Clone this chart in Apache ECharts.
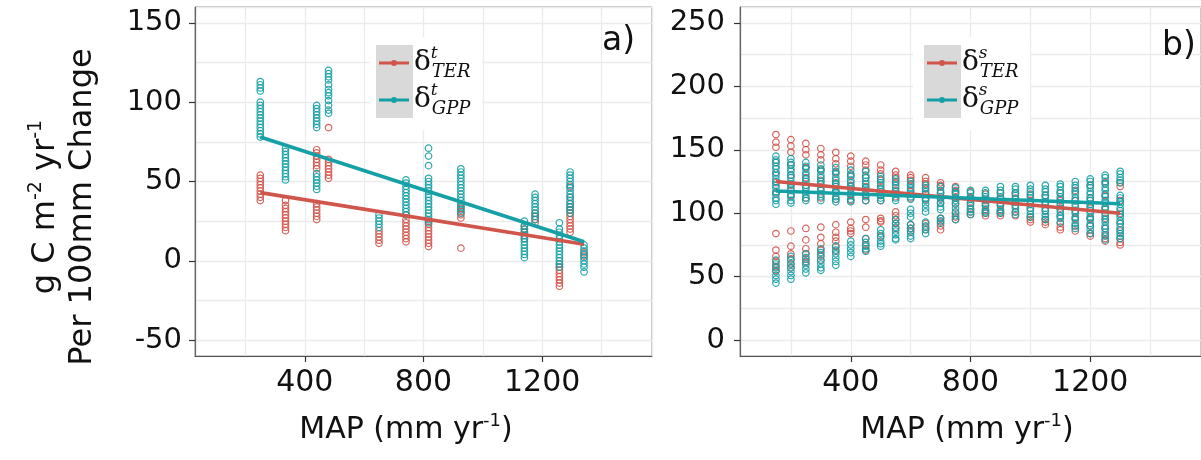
<!DOCTYPE html>
<html><head><meta charset="utf-8">
<script src="https://cdn.jsdelivr.net/npm/echarts@6/dist/echarts.min.js"></script>
<style>html,body{margin:0;padding:0;background:#fff}#c{width:1201px;height:460px}</style>
</head><body><div id="c"></div>
<script>
const RED = '#D0554B', TEAL = '#14A0A5';

// ---------- panel a) : sensitivity to temporal MAP change ----------
const aMAP = [250, 335, 440, 480, 650, 741, 817, 926, 1140, 1176, 1258, 1294, 1341];
const aTER = [
  [54, 52, 50, 48, 46, 44, 42, 40, 38],
  [38, 35, 33, 31, 29, 27, 25, 23, 21, 19],
  [70, 68, 66, 64, 62, 60, 58, 36, 34, 32, 30, 28, 26],
  [84, 64, 62, 60, 58, 56, 54, 52],
  [19, 17, 15, 13, 11],
  [29, 26, 24, 22, 20, 18, 16, 14, 12],
  [25, 23, 21, 19, 17, 15, 13, 11, 9],
  [35, 33, 31, 29, 27, 8],
  [22, 20, 18, 16, 14],
  [30, 28, 26, 24],
  [-2, -4, -6, -8, -10, -12, -14, -16],
  [47, 40, 36, 34, 32, 30, 28, 26, 24, 22, 20, 18],
  [5, 3]
];
const aGPP = [
  [113, 111, 109, 107, 100, 98, 96, 94, 92, 90, 88, 86, 84, 82, 80, 78],
  [71, 69, 67, 65, 63, 61, 59, 57, 55, 53, 51],
  [98, 96, 94, 92, 90, 88, 86, 84, 55, 53, 51, 49, 47, 45],
  [120, 118, 116, 114, 111, 108, 106, 104, 101, 98, 95, 93],
  [29, 27, 25, 23, 21],
  [51, 49, 47, 45, 43, 41, 39, 37, 35, 33, 31, 29],
  [71, 66, 60, 52, 50, 48, 46, 44, 42, 40, 38, 36, 34, 32, 30, 28, 26, 24],
  [58, 56, 54, 52, 50, 48, 46, 44, 42, 40, 38, 36, 34, 32, 30],
  [25, 22, 20, 18, 16, 14, 12, 10, 8, 6, 4, 2],
  [42, 40, 38, 36, 34, 32, 30, 28, 26],
  [24, 20, 18, 16, 14, 12, 10, 8, 6, 4, 2, 0, -2, -4],
  [56, 54, 52, 50, 48, 46, 44, 42, 40, 38, 36, 34, 32, 30],
  [10, 8, 6, 4, 2, 0, -2, -4, -7]
];
const aTERfit = [[250, 43], [1341, 10.5]];
const aGPPfit = [[250, 78], [1341, 12]];

// ---------- panel b) : sensitivity to spatial MAP change ----------
const bMAP = [150, 200, 250, 300, 350, 400, 450, 500, 550, 600, 650, 700,
              750, 800, 850, 900, 950, 1000, 1050, 1100, 1150, 1200, 1250, 1300];
const bTER = [
  [162, 156, 152, 140, 132, 124, 116, 84, 71, 66, 62, 58, 55],
  [158, 153, 148, 138, 130, 122, 114, 86, 74, 68, 64, 60, 57],
  [155, 150, 146, 136, 128, 120, 112, 88, 79, 72, 68, 64, 61],
  [151, 146, 142, 134, 126, 118, 112, 89, 81, 76, 71, 67, 63],
  [148, 143, 139, 132, 124, 117, 111, 91, 85, 81, 78, 74, 70],
  [145, 141, 137, 130, 122, 115, 110, 93, 88, 86, 84],
  [141, 138, 134, 128, 121, 114, 110, 95, 89, 80, 75, 71],
  [138, 134, 131, 126, 120, 114, 110, 96, 94, 93, 82],
  [133, 130, 128, 124, 118, 113, 101, 98, 95, 92, 88],
  [130, 128, 126, 122, 117, 112, 91, 88, 86],
  [128, 125, 123, 119, 115, 111, 92, 89, 87],
  [124, 122, 121, 116, 112, 108, 96, 93, 90, 87],
  [121, 118, 116, 112, 108, 100, 97, 95],
  [117, 112, 108, 104, 101, 99],
  [115, 110, 106, 102, 100, 98],
  [116, 112, 106, 102, 100, 98],
  [116, 112, 106, 101, 98],
  [115, 110, 104, 97, 95, 93],
  [114, 108, 102, 95, 93, 91],
  [116, 110, 104, 98, 92, 89, 87],
  [118, 110, 102, 96, 90, 86],
  [122, 112, 104, 96, 90, 84, 82],
  [124, 114, 104, 96, 88, 83, 80, 78],
  [124, 121, 110, 100, 92, 86, 80, 77, 75]
];
const bGPP = [
  [145, 142, 140, 137, 135, 132, 130, 127, 125, 122, 120, 117, 115, 112, 110, 107, 63, 60, 57, 54, 51, 48, 45],
  [143, 140, 138, 135, 133, 130, 128, 125, 123, 120, 118, 115, 113, 110, 108, 66, 63, 60, 57, 54, 51, 48],
  [140, 137, 135, 132, 130, 127, 125, 122, 120, 117, 115, 112, 110, 68, 65, 62, 59, 56, 53],
  [138, 135, 133, 130, 128, 125, 123, 120, 118, 115, 113, 110, 72, 69, 66, 63, 60, 57, 55],
  [136, 133, 131, 128, 126, 123, 121, 118, 116, 113, 111, 109, 74, 71, 68, 65, 62, 59],
  [134, 131, 129, 126, 124, 121, 119, 116, 114, 111, 109, 78, 75, 72, 69, 66],
  [133, 130, 128, 125, 123, 120, 118, 115, 113, 110, 80, 77, 74, 72, 70],
  [129, 127, 124, 122, 119, 117, 114, 112, 110, 87, 84, 81, 78, 76, 74],
  [127, 125, 122, 120, 117, 115, 112, 110, 95, 92, 89, 86, 83, 80, 79],
  [125, 123, 120, 118, 115, 113, 111, 103, 100, 97, 91, 88, 85, 82, 80],
  [122, 120, 117, 115, 112, 110, 107, 104, 101, 93, 90, 87, 84],
  [121, 118, 116, 113, 111, 108, 105, 103, 96, 94, 92],
  [120, 117, 115, 112, 110, 107, 104, 101, 98, 95],
  [118, 116, 113, 111, 108, 106, 103, 101, 99],
  [118, 116, 113, 111, 108, 106, 103, 101, 100],
  [121, 118, 116, 113, 111, 108, 106, 103, 101, 100],
  [121, 119, 116, 114, 111, 109, 106, 104, 101, 99],
  [122, 119, 117, 114, 112, 109, 107, 104, 102, 99, 97],
  [122, 119, 117, 114, 112, 109, 107, 104, 102, 99, 97, 95],
  [123, 121, 118, 116, 113, 111, 108, 106, 103, 101, 98, 96, 93],
  [125, 122, 120, 117, 115, 112, 110, 107, 105, 102, 100, 97, 95, 92, 90, 88],
  [127, 125, 122, 120, 117, 115, 112, 110, 107, 105, 102, 100, 97, 95, 92, 90, 87, 84],
  [130, 128, 125, 123, 120, 118, 115, 113, 110, 108, 105, 103, 100, 98, 95, 93, 90, 88, 85, 82, 79],
  [133, 131, 128, 126, 124, 114, 112, 109, 107, 104, 102, 99, 97, 94, 92, 89, 87, 84, 82, 80]
];
const bTERfit = [[150, 125], [1300, 100]];
const bGPPfit = [[150, 117.5], [1300, 107.5]];

// axis tick labels
const xTicks = [400, 800, 1200];
const aYTicks = [-50, 0, 50, 100, 150];
const bYTicks = [0, 50, 100, 150, 200, 250];

function pairs(xs, cols) {
  const out = [];
  xs.forEach((x, i) => cols[i].forEach(v => out.push([x, v])));
  return out;
}

const FONT = 'DejaVu Sans';
const GRIDLINE = { show: true, lineStyle: { color: '#EBEBEB', width: 1.3 } };
function xAx(gi) {
  return {
    type: 'value', gridIndex: gi, min: 30, max: 1570, position: 'bottom',
    axisLine: { show: true, onZero: false, lineStyle: { color: '#555', width: 1.2 } },
    axisTick: { show: true, customValues: xTicks, length: 6, lineStyle: { color: '#333', width: 1.2 } },
    axisLabel: { customValues: xTicks, formatter: v => String(v), color: '#111', fontFamily: FONT, fontSize: 30, margin: 12 },
    splitLine: { show: false }
  };
}
function xGrid(gi) { // background grid lines every 200 mm
  return {
    type: 'value', gridIndex: gi, min: 30, max: 1570, minInterval: 200, maxInterval: 200, position: 'top',
    axisLine: { show: false }, axisTick: { show: false }, axisLabel: { show: false }, splitLine: GRIDLINE
  };
}
function yAx(gi, mn, mx, ticks, margin) {
  return {
    type: 'value', gridIndex: gi, min: mn, max: mx, position: 'left',
    axisLine: { show: true, onZero: false, lineStyle: { color: '#666', width: 1.2 } },
    axisTick: { show: true, customValues: ticks, length: 6, lineStyle: { color: '#333', width: 1.2 } },
    axisLabel: { customValues: ticks, formatter: v => String(v), color: '#111', fontFamily: FONT, fontSize: 29, margin: margin },
    splitLine: { show: false }
  };
}
function yGrid(gi, mn, mx) { // background grid lines every 25 units
  return {
    type: 'value', gridIndex: gi, min: mn, max: mx, minInterval: 25, maxInterval: 25, position: 'right',
    axisLine: { show: false }, axisTick: { show: false }, axisLabel: { show: false }, splitLine: GRIDLINE
  };
}
function pts(name, gi, data, color) {
  return {
    type: 'scatter', name: name, xAxisIndex: gi, yAxisIndex: gi, data: data,
    symbol: 'circle', symbolSize: 6.5, z: 2,
    itemStyle: { color: 'rgba(255,255,255,0)', borderColor: color, borderWidth: 1.2, opacity: 0.9 },
    emphasis: { disabled: true }
  };
}
function fit(name, gi, data, color, z) {
  return {
    type: 'line', name: name, xAxisIndex: gi, yAxisIndex: gi, data: data,
    showSymbol: false, symbol: 'none', z: z,
    lineStyle: { color: color, width: 3.6 }, itemStyle: { color: color },
    emphasis: { disabled: true }
  };
}

const ICON = 'path://M0,1.5L30,1.5L30,4.5L0,4.5Z M12,3A3,3,0,1,1,18,3A3,3,0,1,1,12,3Z';
const legRich = {
  d: { fontFamily: 'DejaVu Serif', fontSize: 28, lineHeight: 36, color: '#111', verticalAlign: 'middle' },
  sup: { fontFamily: 'DejaVu Serif', fontStyle: 'italic', fontSize: 17, lineHeight: 36, color: '#111', verticalAlign: 'top', width: 1 },
  sub: { fontFamily: 'DejaVu Serif', fontStyle: 'italic', fontSize: 18, lineHeight: 36, color: '#111', verticalAlign: 'bottom' }
};
function legend(left, names, supChar) {
  return {
    orient: 'vertical', left: left, top: 45, padding: 0, itemGap: 1,
    itemWidth: 30, itemHeight: 6, selectedMode: false, z: 10,
    data: [
      { name: names[0], icon: ICON, itemStyle: { color: RED, borderWidth: 0, opacity: 1 } },
      { name: names[1], icon: ICON, itemStyle: { color: TEAL, borderWidth: 0, opacity: 1 } }
    ],
    formatter: n => '{d|δ}{sup|' + supChar + '}{sub|' + (n.endsWith('TER') ? 'TER' : 'GPP') + '}',
    textStyle: { rich: legRich }
  };
}

const chart = echarts.init(document.getElementById('c'), null, { renderer: 'canvas' });
chart.setOption({
  animation: false,
  backgroundColor: '#fff',
  grid: [
    { left: 195, top: 7, width: 457, height: 349, show: true, borderColor: '#8a8a8a', borderWidth: 1, backgroundColor: '#fff' },
    { left: 740, top: 7, width: 464, height: 349, show: true, borderColor: '#8a8a8a', borderWidth: 1, backgroundColor: '#fff' }
  ],
  xAxis: [xAx(0), xAx(1), xGrid(0), xGrid(1)],
  yAxis: [yAx(0, -60, 160, aYTicks, 13), yAx(1, -12.5, 262.5, bYTicks, 15), yGrid(0, -60, 160), yGrid(1, -12.5, 262.5)],
  legend: [legend(379, ['aTER', 'aGPP'], 't'), legend(927, ['bTER', 'bGPP'], 's')],
  series: [
    pts('aTER', 0, pairs(aMAP, aTER), RED),
    pts('aGPP', 0, pairs(aMAP, aGPP), TEAL),
    fit('aTER', 0, aTERfit, RED, 3),
    fit('aGPP', 0, aGPPfit, TEAL, 4),
    pts('bTER', 1, pairs(bMAP, bTER), RED),
    pts('bGPP', 1, pairs(bMAP, bGPP), TEAL),
    fit('bTER', 1, bTERfit, RED, 3),
    fit('bGPP', 1, bGPPfit, TEAL, 4)
  ],
  graphic: { elements: [
    { type: 'rect', shape: { x: 370, y: 37, width: 112, height: 93 }, style: { fill: '#fff' }, z: 5 },
    { type: 'rect', shape: { x: 376, y: 45, width: 37, height: 73 }, style: { fill: '#D9D9D9' }, z: 6 },
    { type: 'rect', shape: { x: 913, y: 37, width: 117, height: 93 }, style: { fill: '#fff' }, z: 5 },
    { type: 'rect', shape: { x: 924, y: 45, width: 37, height: 73 }, style: { fill: '#D9D9D9' }, z: 6 },
    { type: 'text', x: 602, y: 41, z: 10, style: { text: 'a)', font: '33px "DejaVu Sans"', fill: '#111', align: 'left', verticalAlign: 'middle' } },
    { type: 'text', x: 1162, y: 46, z: 10, style: { text: 'b)', font: '33px "DejaVu Sans"', fill: '#111', align: 'left', verticalAlign: 'middle' } },
    { type: 'text', x: 406, y: 430, z: 10, style: {
        text: '{n|MAP (mm yr}{s|-1}{n|)}', align: 'center', verticalAlign: 'middle',
        rich: { n: { fontFamily: FONT, fontSize: 30, lineHeight: 36, fill: '#111' },
                s: { fontFamily: FONT, fontSize: 18, lineHeight: 36, fill: '#111', verticalAlign: 'top' } } } },
    { type: 'text', x: 967, y: 430, z: 10, style: {
        text: '{n|MAP (mm yr}{s|-1}{n|)}', align: 'center', verticalAlign: 'middle',
        rich: { n: { fontFamily: FONT, fontSize: 30, lineHeight: 36, fill: '#111' },
                s: { fontFamily: FONT, fontSize: 18, lineHeight: 36, fill: '#111', verticalAlign: 'top' } } } },
    { type: 'text', x: 64, y: 207, rotation: Math.PI / 2, z: 10, style: {
        text: '{n|g C m}{s|-2}{n| yr}{s|-1}\n{n|Per 100mm Change}', align: 'center', verticalAlign: 'middle',
        rich: { n: { fontFamily: FONT, fontSize: 32, lineHeight: 37, fill: '#111' },
                s: { fontFamily: FONT, fontSize: 19, lineHeight: 37, fill: '#111', verticalAlign: 'top' } } } }
  ] }
});
</script>
</body></html>
